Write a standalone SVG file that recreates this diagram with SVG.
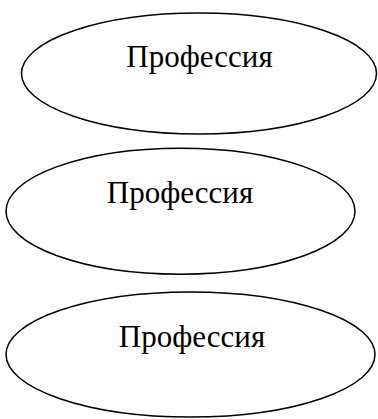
<svg xmlns="http://www.w3.org/2000/svg" width="378" height="419" viewBox="0 0 378 419">
<style>
.n ellipse{fill:#fff;stroke:#000;stroke-width:1.5}
.n text{font-family:"Liberation Serif","Times New Roman",serif;font-size:31px;fill:#000;text-anchor:middle}
</style>
<rect width="378" height="419" fill="#fff"/>
<g id="connectors"/>
<g id="node1" class="n"><ellipse cx="199" cy="73.5" rx="177.5" ry="60.5"/><text x="199.5" y="67">Профессия</text></g>
<g id="node2" class="n"><ellipse cx="180.5" cy="211.2" rx="174.5" ry="63"/><text x="180" y="203">Профессия</text></g>
<g id="node3" class="n"><ellipse cx="190.5" cy="354.5" rx="184.5" ry="62.5"/><text x="192" y="347">Профессия</text></g>
</svg>
